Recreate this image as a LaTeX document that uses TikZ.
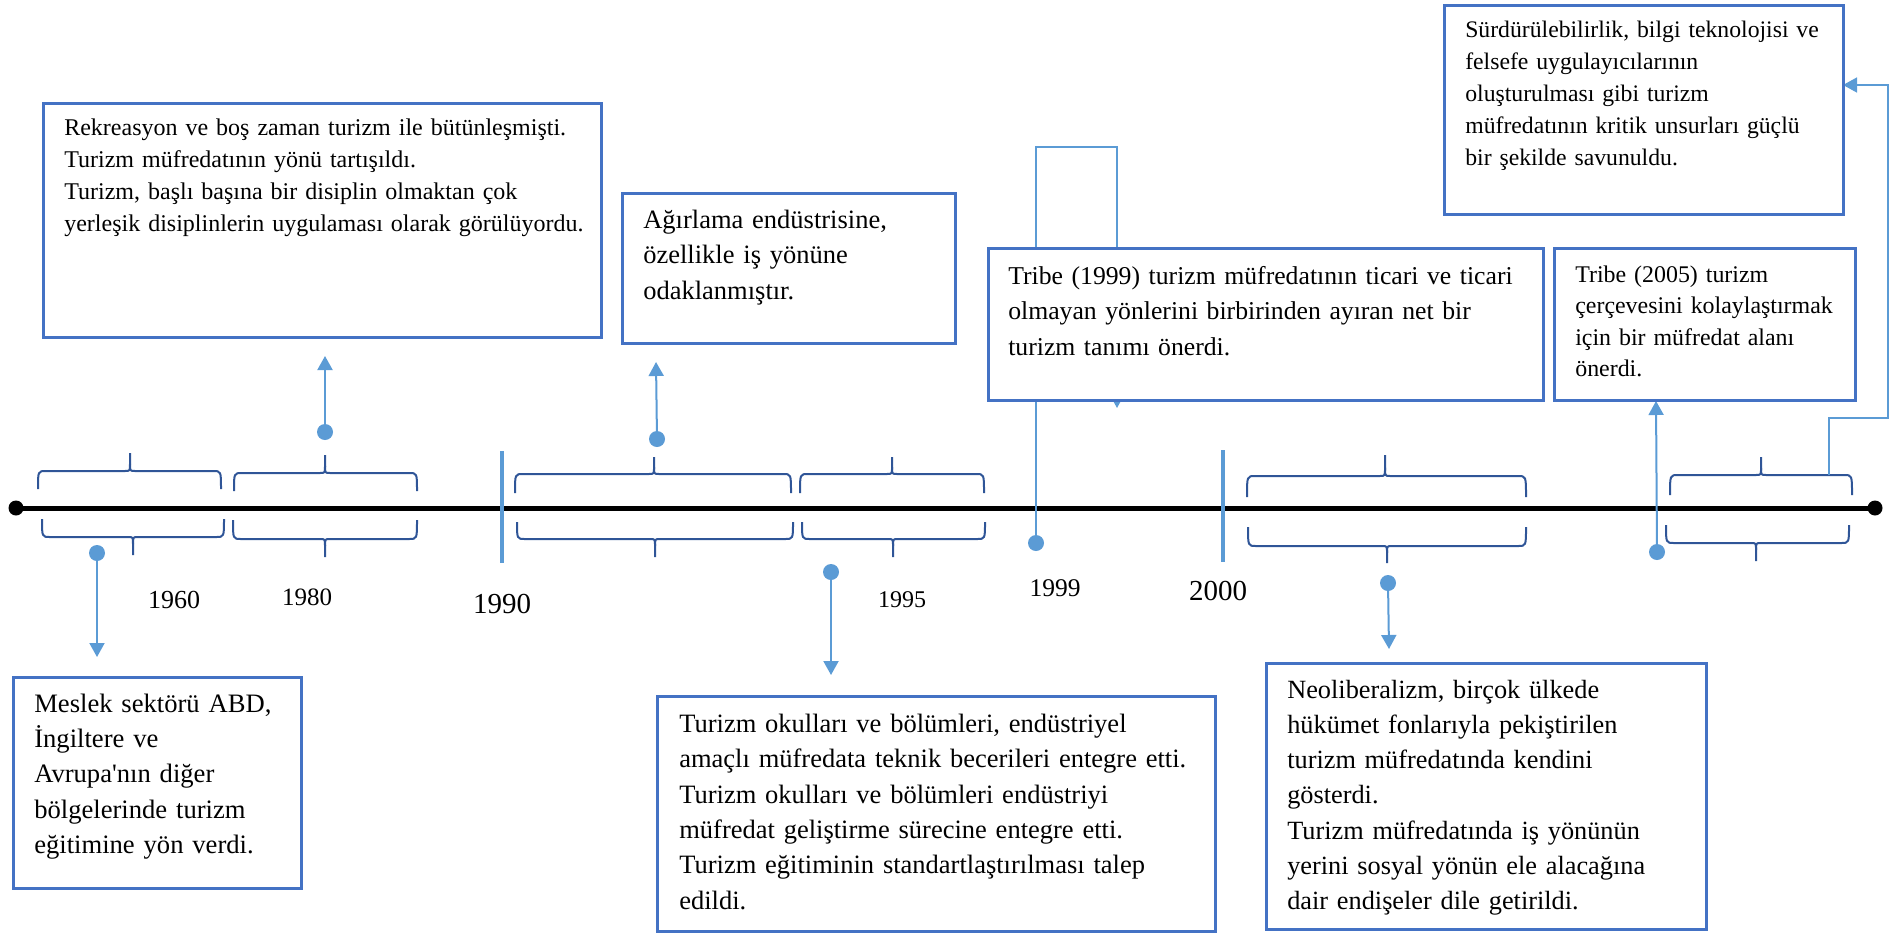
\documentclass[tikz,border=0pt]{standalone}
\usepackage{fontspec}
\setmainfont{Liberation Serif}[Ligatures=TeXOff]
\usetikzlibrary{arrows.meta}
\definecolor{boxblue}{HTML}{4472C4}
\definecolor{lineblue}{HTML}{5B9BD5}
\definecolor{braceblue}{HTML}{2F5597}
\tikzset{
  tbox/.style={draw=boxblue, line width=2.6pt, fill=white, anchor=north west, inner ysep=0pt, align=left},
  conn/.style={draw=lineblue, line width=2pt, -{Triangle[length=14pt,width=15pt]}},
  connthin/.style={draw=lineblue, line width=1.5pt},
  dot/.style={circle, fill=lineblue, inner sep=0pt, minimum size=16pt},
  enddot/.style={circle, fill=black, inner sep=0pt, minimum size=15pt},
  bracestyle/.style={draw=braceblue, line width=2pt},
  bar/.style={draw=lineblue, line width=4pt},
  year/.style={inner sep=0pt, anchor=center}
}
\newcommand{\tlbrace}[6]{%
  \draw[bracestyle] (#1,#5) .. controls (#1,#4) .. ({#1+8},#4) -- ({#3-5},#4) .. controls (#3,#4) .. (#3,{#4+0.4*(#6-#4)}) -- (#3,#6);
  \draw[bracestyle] (#2,#5) .. controls (#2,#4) .. ({#2-8},#4) -- ({#3+5},#4) .. controls (#3,#4) .. (#3,{#4+0.4*(#6-#4)});
}
\begin{document}
\begin{tikzpicture}[x=1pt,y=-1pt]
\useasboundingbox (0,0) rectangle (1894,932);

% timeline
\node[enddot] (tl0) at (16,508) {};
\node[enddot] (tl1) at (1875,508) {};
\draw[line width=5pt] (tl0.center) -- (tl1.center);

% braces: xL xR xT yH yE yTip
\tlbrace{38}{221}{130}{471}{489}{453}
\tlbrace{42}{224}{133}{537}{519}{555}
\tlbrace{234}{417}{325}{473}{491}{455}
\tlbrace{233}{417}{325}{539}{520}{557}
\tlbrace{515}{791}{654}{474}{493}{457}
\tlbrace{517}{793}{655}{539}{522}{557}
\tlbrace{800}{984}{892}{474}{493}{457}
\tlbrace{802}{985}{893}{539}{522}{557}
\tlbrace{1247}{1526}{1385}{476}{497}{455}
\tlbrace{1248}{1526}{1387}{546}{527}{563}
\tlbrace{1670}{1852}{1761}{475}{495}{457}
\tlbrace{1666}{1849}{1756}{543}{525}{561}

% period bars
\coordinate (bar90a) at (502,451);
\coordinate (bar90b) at (502,563);
\coordinate (bar00a) at (1223,450);
\coordinate (bar00b) at (1223,562);
\draw[bar] (bar90a) -- (bar90b);
\draw[bar] (bar00a) -- (bar00b);

% dots
\node[dot] (d60) at (97,553) {};
\node[dot] (d80) at (325,432) {};
\node[dot] (d90) at (657,439) {};
\node[dot] (d95) at (831,572) {};
\node[dot] (d99) at (1036,543) {};
\node[dot] (d00) at (1388,583) {};
\node[dot] (d05) at (1657,552) {};

% arrow ends
\coordinate (a60) at (97,657);
\coordinate (a80) at (325,356);
\coordinate (a90) at (656,362);
\coordinate (a95) at (831,675);
\coordinate (a00) at (1389,649);
\coordinate (a05) at (1656,401);
\coordinate (k99) at (1036,147);
\coordinate (m99) at (1117,147);
\coordinate (a99) at (1117,408);
\coordinate (b06) at (1829,475);
\coordinate (e1) at (1829,418);
\coordinate (e2) at (1888,418);
\coordinate (e3) at (1888,85);
\coordinate (a06) at (1843,85);

\draw[conn] (d60.center) -- (a60);
\draw[conn] (d80.center) -- (a80);
\draw[conn] (d90.center) -- (a90);
\draw[conn] (d95.center) -- (a95);
\draw[conn] (d00.center) -- (a00);
\draw[conn] (d05.center) -- (a05);
\draw[connthin, -{Triangle[length=14pt,width=15pt]}] (d99.center) -- (k99) -- (m99) -- (a99);
\draw[connthin, -{Triangle[length=14pt,width=15pt]}] (b06) -- (e1) -- (e2) -- (e3) -- (a06);

% boxes
\node[tbox, inner xsep=21pt, text width=516pt, text height=32pt, text depth=202pt,
      font=\fontsize{24}{32}\selectfont] (boxA) at (42,102)
 {\mbox{Rekreasyon ve boş zaman turizm ile bütünleşmişti.}\\
  \mbox{Turizm müfredatının yönü tartışıldı.}\\
  \mbox{Turizm, başlı başına bir disiplin olmaktan çok}\\
  \mbox{yerleşik disiplinlerin uygulaması olarak görülüyordu.}};

\node[tbox, inner xsep=21pt, text width=291pt, text height=35pt, text depth=115pt,
      font=\fontsize{26.5}{35.5}\selectfont] (boxB) at (621,192)
 {\mbox{Ağırlama endüstrisine,}\\
  \mbox{özellikle iş yönüne}\\
  \mbox{odaklanmıştır.}};

\node[tbox, inner xsep=20pt, text width=515pt, text height=36pt, text depth=116pt,
      font=\fontsize{25.7}{35.5}\selectfont] (boxC) at (987,247)
 {\mbox{Tribe (1999) turizm müfredatının ticari ve ticari}\\
  \mbox{olmayan yönlerini birbirinden ayıran net bir}\\
  \mbox{turizm tanımı önerdi.}};

\node[tbox, inner xsep=21pt, text width=357pt, text height=32pt, text depth=177pt,
      font=\fontsize{23.7}{32}\selectfont] (boxD) at (1443,4)
 {\mbox{Sürdürülebilirlik, bilgi teknolojisi ve}\\
  \mbox{felsefe uygulayıcılarının}\\
  \mbox{oluşturulması gibi turizm}\\
  \mbox{müfredatının kritik unsurları güçlü}\\
  \mbox{bir şekilde savunuldu.}};

\node[tbox, inner xsep=21pt, text width=259pt, text height=34pt, text depth=118pt,
      font=\fontsize{23.9}{31.5}\selectfont] (boxE) at (1553,247)
 {\mbox{Tribe (2005) turizm}\\
  \mbox{çerçevesini kolaylaştırmak}\\
  \mbox{için bir müfredat alanı}\\
  \mbox{önerdi.}};

\node[tbox, inner xsep=21pt, text width=246pt, text height=35pt, text depth=176pt,
      font=\fontsize{26.6}{35.3}\selectfont] (boxF) at (12,676)
 {\mbox{Meslek sektörü ABD,}\\
  \mbox{İngiltere ve}\\
  \mbox{Avrupa'nın diğer}\\
  \mbox{bölgelerinde turizm}\\
  \mbox{eğitimine yön verdi.}};

\node[tbox, inner xsep=22pt, text width=514pt, text height=36pt, text depth=199pt,
      font=\fontsize{26.5}{35.4}\selectfont] (boxG) at (656,695)
 {\mbox{Turizm okulları ve bölümleri, endüstriyel}\\
  \mbox{amaçlı müfredata teknik becerileri entegre etti.}\\
  \mbox{Turizm okulları ve bölümleri endüstriyi}\\
  \mbox{müfredat geliştirme sürecine entegre etti.}\\
  \mbox{Turizm eğitiminin standartlaştırılması talep}\\
  \mbox{edildi.}};

\node[tbox, inner xsep=21pt, text width=398pt, text height=35pt, text depth=231pt,
      font=\fontsize{26.3}{35.2}\selectfont] (boxH) at (1265,662)
 {\mbox{Neoliberalizm, birçok ülkede}\\
  \mbox{hükümet fonlarıyla pekiştirilen}\\
  \mbox{turizm müfredatında kendini}\\
  \mbox{gösterdi.}\\
  \mbox{Turizm müfredatında iş yönünün}\\
  \mbox{yerini sosyal yönün ele alacağına}\\
  \mbox{dair endişeler dile getirildi.}};

% year labels
\node[year, font=\fontsize{26}{30}\selectfont] (y60) at (174,600) {1960};
\node[year, font=\fontsize{25}{30}\selectfont] (y80) at (307,597) {1980};
\node[year, font=\fontsize{29}{34}\selectfont] (y90) at (502,604) {1990};
\node[year, font=\fontsize{24}{30}\selectfont] (y95) at (902,600) {1995};
\node[year, font=\fontsize{25.5}{30}\selectfont] (y99) at (1055,588) {1999};
\node[year, font=\fontsize{29}{34}\selectfont] (y00) at (1218,591) {2000};
\end{tikzpicture}
\end{document}
